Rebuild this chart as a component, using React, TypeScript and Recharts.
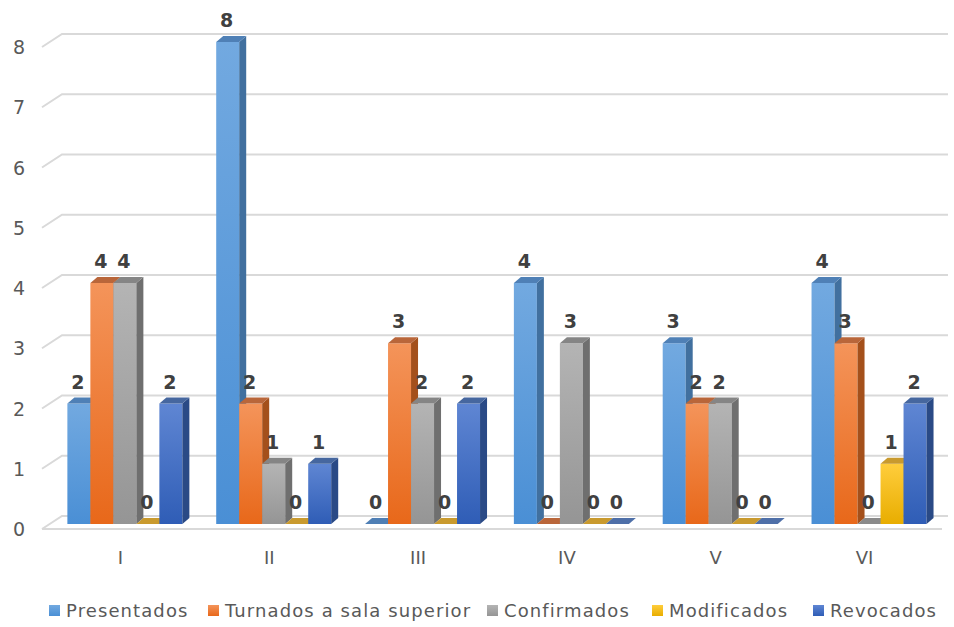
import React from 'react';
import { BarChart, Bar, XAxis, YAxis, CartesianGrid, LabelList } from 'recharts';

const categories = ['I', 'II', 'III', 'IV', 'V', 'VI'];
const presentados = [2, 8, 0, 4, 3, 4];
const turnados = [4, 2, 3, 0, 2, 3];
const confirmados = [4, 1, 2, 3, 2, 0];
const modificados = [0, 0, 0, 0, 0, 1];
const revocados = [2, 1, 2, 0, 0, 2];
const yTicks = [0, 1, 2, 3, 4, 5, 6, 7, 8];

const FONT = '"DejaVu Sans", sans-serif';
const SHIFT = 5;
const DX = 7;
const DY = 6;

const series = [
  { key: 'presentados', name: 'Presentados', top: '#72a9e0', bottom: '#4a8fd5', side: '#41709f', cap: '#4f80b6', flat: '#4f7fb5' },
  { key: 'turnados', name: 'Turnados a sala superior', top: '#f4945a', bottom: '#e8681a', side: '#a4501b', cap: '#b9663a', flat: '#b9663a' },
  { key: 'confirmados', name: 'Confirmados', top: '#b4b4b4', bottom: '#959595', side: '#6f6f6f', cap: '#858585', flat: '#8a8a8a' },
  { key: 'modificados', name: 'Modificados', top: '#ffcd3c', bottom: '#e8ad00', side: '#b38600', cap: '#c99a2e', flat: '#c99a2e' },
  { key: 'revocados', name: 'Revocados', top: '#5f86d3', bottom: '#2f5db6', side: '#2a4a86', cap: '#46679f', flat: '#4e6fa8' },
];

const data = categories.map((cat, i) => ({
  cat,
  presentados: presentados[i],
  turnados: turnados[i],
  confirmados: confirmados[i],
  modificados: modificados[i],
  revocados: revocados[i],
}));

const legendPos = [49, 208, 487, 652, 813];

const makeShape = (s: typeof series[number]) => (props: any) => {
  const { x, y, width, height } = props;
  const x0 = x + SHIFT;
  const w = width;
  if (!height || height <= 0) {
    return (
      <polygon
        points={`${x0},${y} ${x0 + DX},${y - DY} ${x0 + w + DX},${y - DY} ${x0 + w},${y}`}
        fill={s.flat}
      />
    );
  }
  return (
    <g>
      <rect x={x0} y={y} width={w} height={height} fill={`url(#grad-${s.key})`} />
      <polygon
        points={`${x0 + w},${y} ${x0 + w + DX},${y - DY} ${x0 + w + DX},${y + height - DY} ${x0 + w},${y + height}`}
        fill={s.side}
      />
      <polygon
        points={`${x0},${y} ${x0 + DX},${y - DY} ${x0 + w + DX},${y - DY} ${x0 + w},${y}`}
        fill={s.cap}
      />
    </g>
  );
};

const renderLabel = (props: any) => {
  const { x, y, width, value } = props;
  return (
    <text
      x={x + SHIFT + width / 2 - 1}
      y={y - 15}
      textAnchor="middle"
      fill="#404040"
      fontSize={19}
      fontWeight="bold"
      fontFamily={FONT}
    >
      {value}
    </text>
  );
};

const gridLine = (props: any) => {
  const { x1, x2, y1 } = props;
  const y = y1;
  const floor = y > 520;
  return (
    <g key={`g-${y}`}>
      <polyline
        points={`${x1 - 4},${y + 5} ${x1 + 16},${y - 8} ${x2 + 9},${y - 8}`}
        fill="none"
        stroke="#d9d9d9"
        strokeWidth={2}
      />
      {floor && <line x1={x1 - 4} y1={y + 5} x2={x2 + 3} y2={y + 5} stroke="#d9d9d9" strokeWidth={2} />}
    </g>
  );
};

export default function App() {
  return (
    <div style={{ position: 'absolute', left: 0, top: 0, width: 954, height: 627, background: '#fff' }}>
      <BarChart
        width={954}
        height={627}
        data={data}
        margin={{ top: 42, right: 15, bottom: 73, left: 0 }}
        barCategoryGap="11%"
        barGap={0}
      >
        <defs>
          {series.map((s) => (
            <linearGradient key={s.key} id={`grad-${s.key}`} x1="0" y1="0" x2="0" y2="1">
              <stop offset="0%" stopColor={s.top} />
              <stop offset="100%" stopColor={s.bottom} />
            </linearGradient>
          ))}
        </defs>
        <CartesianGrid vertical={false} horizontal={gridLine} />
        <XAxis
          dataKey="cat"
          height={30}
          axisLine={false}
          tickLine={false}
          interval={0}
          tick={(p: any) => (
            <text x={p.x} y={557} textAnchor="middle" dominantBaseline="central" fill="#595959" fontSize={18} fontFamily={FONT}>
              {p.payload.value}
            </text>
          )}
        />
        <YAxis
          width={46}
          domain={[0, 8]}
          ticks={yTicks}
          interval={0}
          axisLine={false}
          tickLine={false}
          tick={(p: any) => (
            <text x={19} y={p.y + 5} textAnchor="middle" dominantBaseline="central" fill="#595959" fontSize={19} fontFamily={FONT}>
              {p.payload.value}
            </text>
          )}
        />
        {series.map((s) => (
          <Bar key={s.key} dataKey={s.key} name={s.name} isAnimationActive={false} shape={makeShape(s)}>
            <LabelList dataKey={s.key} content={renderLabel} />
          </Bar>
        ))}
      </BarChart>
      {series.map((s, i) => (
        <div
          key={s.key}
          style={{
            position: 'absolute',
            left: legendPos[i],
            top: 598,
            display: 'flex',
            alignItems: 'center',
            fontFamily: FONT,
            fontSize: 18,
            letterSpacing: 1.1,
            color: '#595959',
            whiteSpace: 'nowrap',
            height: 24,
          }}
        >
          <span
            style={{
              display: 'inline-block',
              width: 11,
              height: 11,
              marginRight: 6,
              background: `linear-gradient(${s.top}, ${s.bottom})`,
            }}
          />
          <span>{s.name}</span>
        </div>
      ))}
    </div>
  );
}
